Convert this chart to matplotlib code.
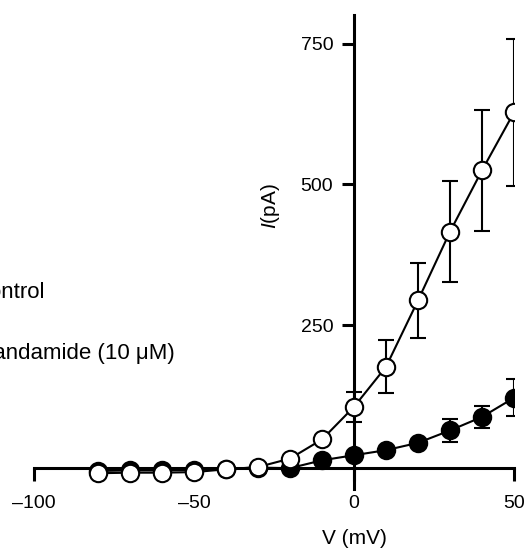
import matplotlib
matplotlib.use('Agg')
from matplotlib import pyplot as plt

plt.rcParams['font.family'] = ['Liberation Sans', 'DejaVu Sans']
plt.rcParams['mathtext.fontset'] = 'custom'
plt.rcParams['mathtext.it'] = 'Liberation Sans:italic'
plt.rcParams['mathtext.rm'] = 'Liberation Sans'

# voltage steps (mV)
volts = [-80, -70, -60, -50, -40, -30, -20, -10, 0, 10, 20, 30, 40, 50]

# control currents (pA) and SEM
control = [-13, -12, -12, -11, -6, -2, 13, 47, 105, 176, 294, 416, 525, 628]
control_err = [0, 0, 0, 0, 0, 0, 0, 0, 27, 47, 66, 90, 107, 131]

# anandamide (10 uM) currents (pA) and SEM
anand = [-9, -8, -8, -7, -5, -3, -4, 10, 19, 28, 41, 63, 87, 121]
anand_err = [0, 0, 0, 0, 0, 0, 0, 0, 0, 0, 0, 20, 20, 33]

xticks = [-100, -50, 0, 50]
xtick_labels = ['\u2013100', '\u201350', '0', '50']
yticks = [250, 500, 750]

W, H = 529, 549
fig = plt.figure(figsize=(W / 100, H / 100), dpi=100)
ax = fig.add_axes([34 / W, 1 - 489 / H, 480 / W, (489 - 15) / H])
ax.set_xlim(-100, 50)
ax.set_ylim(-41, 801)

for side in ['top', 'right']:
    ax.spines[side].set_visible(False)
ax.spines['left'].set_position(('data', 0))
ax.spines['bottom'].set_position(('data', -3))
for side in ['left', 'bottom']:
    ax.spines[side].set_linewidth(2.2)
    ax.spines[side].set_zorder(1)

ax.set_xticks(xticks)
ax.set_xticklabels(xtick_labels)
ax.set_yticks(yticks)
ax.tick_params(axis='x', direction='out', length=9, width=2.2, pad=11, labelsize=14)
ax.tick_params(axis='y', direction='out', length=9, width=2.2, pad=6, labelsize=14)

# error bars (only where they stick out of the markers)
def bars(y, err):
    xs = [v for v, e in zip(volts, err) if e > 0]
    ys = [a for a, e in zip(y, err) if e > 0]
    es = [e for e in err if e > 0]
    ax.errorbar(xs, ys, yerr=es, fmt='none', ecolor='black', elinewidth=1.5,
                capsize=6, capthick=1.5, zorder=2)

bars(anand, anand_err)
bars(control, control_err)

ax.plot(volts, anand, color='black', lw=1.5, marker='o', ms=12.5,
        mfc='black', mec='black', mew=1.5, zorder=4)
ax.plot(volts, control, color='black', lw=1.5, marker='o', ms=12.5,
        mfc='white', mec='black', mew=1.5, zorder=5)

# legend, cut off at the left edge as in the source figure
fig.text(45 / W, 1 - 293 / H, 'Control', ha='right', va='center', fontsize=16)
fig.text(175 / W, 1 - 353 / H, 'Anandamide (10 \u03bcM)', ha='right', va='center', fontsize=16)

fig.text(270 / W, 1 - 206 / H, '$I$(pA)', rotation=90, ha='center', va='center', fontsize=15)
fig.text(354 / W, 1 - 539 / H, 'V (mV)', ha='center', va='center', fontsize=15)

fig.savefig('out.png', dpi=100)
